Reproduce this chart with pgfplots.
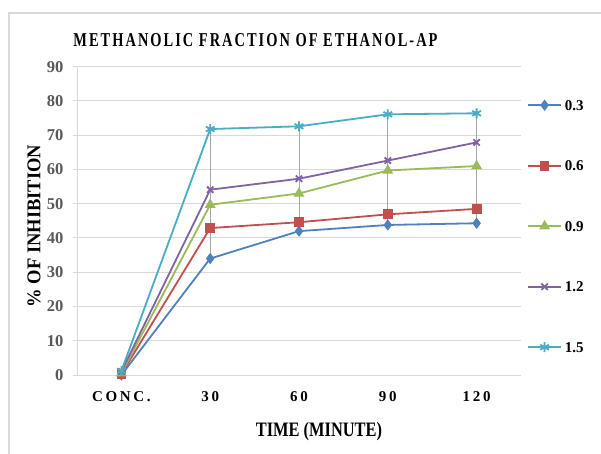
\documentclass[border=0pt]{standalone}
\usepackage{pgfplots}
\pgfplotsset{compat=1.18}
\usepackage{fontspec}
\setmainfont{Liberation Serif}
\usepackage{graphicx}
\definecolor{s1}{HTML}{4F81BD}
\definecolor{s2}{HTML}{C0504D}
\definecolor{s3}{HTML}{9BBB59}
\definecolor{s4}{HTML}{8064A2}
\definecolor{s5}{HTML}{4BACC6}
\definecolor{gridc}{HTML}{D9D9D9}
\definecolor{tickc}{HTML}{595959}
\begin{document}
\begin{tikzpicture}[x=1pt,y=1pt]
\useasboundingbox (0,0) rectangle (601,453);
\fill[white] (0,0) rectangle (601,453);
\draw[gridc,line width=1.5pt] (9,-5) -- (9,440) -- (610,440);
\node at (255.5,412.5) {\resizebox{364pt}{13pt}{\bfseries\addfontfeature{LetterSpace=14}METHANOLIC FRACTION OF ETHANOL-AP}};
\begin{axis}[
  at={(77pt,78pt)}, anchor=south west,
  scale only axis, width=444pt, height=308.3pt,
  xmin=-0.5, xmax=4.5, ymin=0, ymax=90,
  xtick={0,1,2,3,4},
  xticklabels={CONC.,30,60,90,120},
  ytick={0,10,...,90},
  ymajorgrids, grid style={gridc, line width=1pt},
  axis x line*=bottom, axis y line*=left,
  x axis line style={draw=none},
  y axis line style={gridc, line width=1pt},
  xtick style={draw=none},
  ytick style={gridc, line width=1pt},
  tick align=outside, major tick length=4pt,
  /pgf/number format/assume math mode=true,
  yticklabel style={font=\fontsize{16.5}{16.5}\selectfont\bfseries, text=tickc, xshift=-6pt},
  xticklabel style={font=\fontsize{15}{15}\selectfont\bfseries\addfontfeature{LetterSpace=18}, text=black, yshift=-9pt},
  every axis x label/.style={at={(axis description cs:0.545,-0.182)}, anchor=center},
  every axis y label/.style={at={(axis description cs:-0.097,0.483)}, anchor=center, rotate=90},
  xlabel={\scalebox{0.8}[1]{\fontsize{20.5}{20.5}\selectfont\bfseries TIME (MINUTE)}},
  ylabel={\scalebox{0.95}[1]{\fontsize{19.5}{19.5}\selectfont\bfseries \% OF INHIBITION}},
  legend image code/.code={\draw[mark repeat=2,mark phase=2,#1] plot coordinates {(0pt,0pt)(16.5pt,0pt)(33pt,0pt)};},
  legend style={at={(axis description cs:1.0135,0.892)}, anchor=north west, draw=none, fill=none,
    inner sep=0pt, row sep=50.5pt,
    nodes={font=\fontsize{15}{15}\selectfont\bfseries, text height=10pt, text depth=0pt, inner ysep=0pt, inner xsep=3pt}},
  legend cell align=left,
  clip=false,
]
\addplot[color={rgb,255:red,166;green,166;blue,166}, line width=0.8pt, forget plot, unbounded coords=jump]
  coordinates {(1,34.0)(1,71.8) (1,nan) (2,42.0)(2,72.6) (2,nan) (3,43.8)(3,76.1) (3,nan) (4,44.3)(4,76.4)};
\addplot[s1, line width=1.8pt, mark=diamond*, mark size=4.2pt, mark options={solid}]
  coordinates {(0,0.0)(1,34.0)(2,42.0)(3,43.8)(4,44.3)};
\addplot[s2, line width=1.8pt, mark=square*, mark size=4pt]
  coordinates {(0,0.3)(1,42.9)(2,44.6)(3,46.9)(4,48.5)};
\addplot[s3, line width=1.8pt, mark=triangle*, mark size=4.5pt]
  coordinates {(0,0.5)(1,49.7)(2,53.0)(3,59.7)(4,61.0)};
\addplot[s4, line width=1.8pt, mark=x, mark size=4.5pt]
  coordinates {(0,1.0)(1,54.1)(2,57.3)(3,62.6)(4,67.9)};
\addplot[s5, line width=1.8pt, mark=asterisk, mark size=5pt]
  coordinates {(0,1.2)(1,71.8)(2,72.6)(3,76.1)(4,76.4)};
\legend{0.3,0.6,0.9,1.2,1.5}
\end{axis}
\end{tikzpicture}
\end{document}
